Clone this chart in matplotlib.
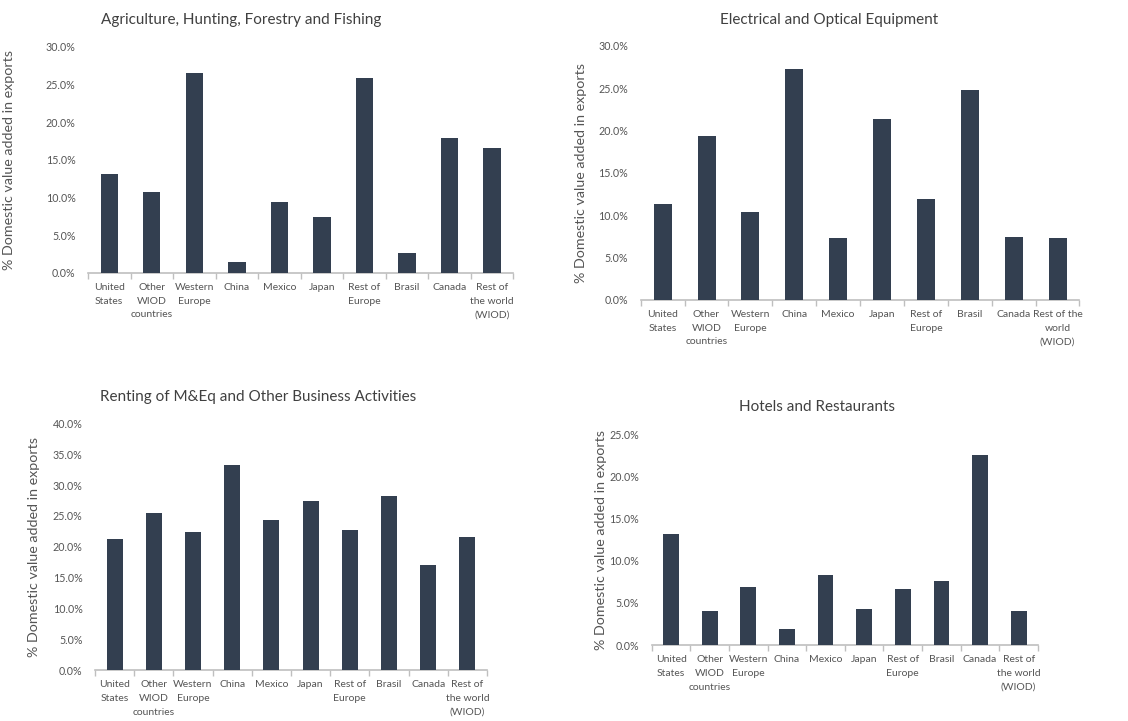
import matplotlib.pyplot as plt
import matplotlib.ticker as mticker
import numpy as np

# categories (same for all four panels)
countries = ["United\nStates", "Other\nWIOD\ncountries", "Western\nEurope", "China",
             "Mexico", "Japan", "Rest of\nEurope", "Brasil", "Canada",
             "Rest of\nthe world\n(WIOD)"]
countries_eoe = countries[:-1] + ["Rest of the\nworld\n(WIOD)"]

# values in percent
agri = [13.2, 10.7, 26.6, 1.5, 9.4, 7.4, 25.9, 2.7, 17.9, 16.6]
elec = [11.3, 19.3, 10.4, 27.3, 7.35, 21.4, 11.9, 24.8, 7.4, 7.35]
renting = [21.2, 25.4, 22.4, 33.3, 24.3, 27.4, 22.7, 28.3, 17.0, 21.6]
hotels = [13.2, 4.05, 6.9, 1.85, 8.35, 4.3, 6.65, 7.55, 22.55, 4.0]

titles = ["Agriculture, Hunting, Forestry and Fishing",
          "Electrical and Optical Equipment",
          "Renting of M&Eq and Other Business Activities",
          "Hotels and Restaurants"]
ymax = [30, 30, 40, 25]

BAR = "#333F50"
TXT = "#555555"
AXC = "#BFBFBF"
plt.rcParams["font.family"] = ["Lato", "DejaVu Sans"]

fig = plt.figure(figsize=(11.28, 7.21), dpi=100)

# axes rectangles in figure fractions (left, bottom, width, height)
rects = [(0.078, 0.6214, 0.377, 0.3135),
         (0.568, 0.584, 0.389, 0.3527),
         (0.0842, 0.0707, 0.3475, 0.342),
         (0.5778, 0.1054, 0.3424, 0.2926)]
title_y = [20, 20, 397, 407]          # pixel y of title centre
title_x = [241, 829, 258, 817]
ylab_x = [15, 587, 40, 607]

data = [agri, elec, renting, hotels]
labels = [countries, countries_eoe, countries, countries]

for i in range(4):
    ax = fig.add_axes(rects[i])
    x = np.arange(len(data[i]))
    ax.bar(x, data[i], width=0.41, color=BAR, zorder=3)
    ax.set_xlim(-0.5, len(x) - 0.5)
    ax.set_ylim(0, ymax[i])
    ax.yaxis.set_major_locator(mticker.MultipleLocator(5))
    ax.yaxis.set_major_formatter(mticker.FuncFormatter(lambda v, p: f"{v:.1f}%"))
    for s in ["top", "right", "left"]:
        ax.spines[s].set_visible(False)
    ax.spines["bottom"].set_color(AXC)
    ax.spines["bottom"].set_linewidth(1.2)
    ax.set_xticks(x)
    ax.set_xticklabels(labels[i], fontsize=7.5, color=TXT, linespacing=1.7)
    ax.set_xticks(np.arange(-0.5, len(x), 1.0), minor=True)
    ax.tick_params(axis="x", which="major", length=0, pad=7)
    ax.tick_params(axis="x", which="minor", length=4, color=AXC, width=1.0)
    ax.tick_params(axis="y", length=0, labelsize=7.7, labelcolor=TXT, pad=9)
    fig.text(title_x[i] / 1128, 1 - title_y[i] / 721, titles[i], fontsize=11,
             color="#404040", ha="center", va="center")
    ax.set_ylabel("% Domestic value added in exports", fontsize=10.3, color=TXT)
    ax.yaxis.set_label_coords((ylab_x[i] / 1128 - rects[i][0]) / rects[i][2], 0.5)

fig.savefig("out.png", dpi=100)
